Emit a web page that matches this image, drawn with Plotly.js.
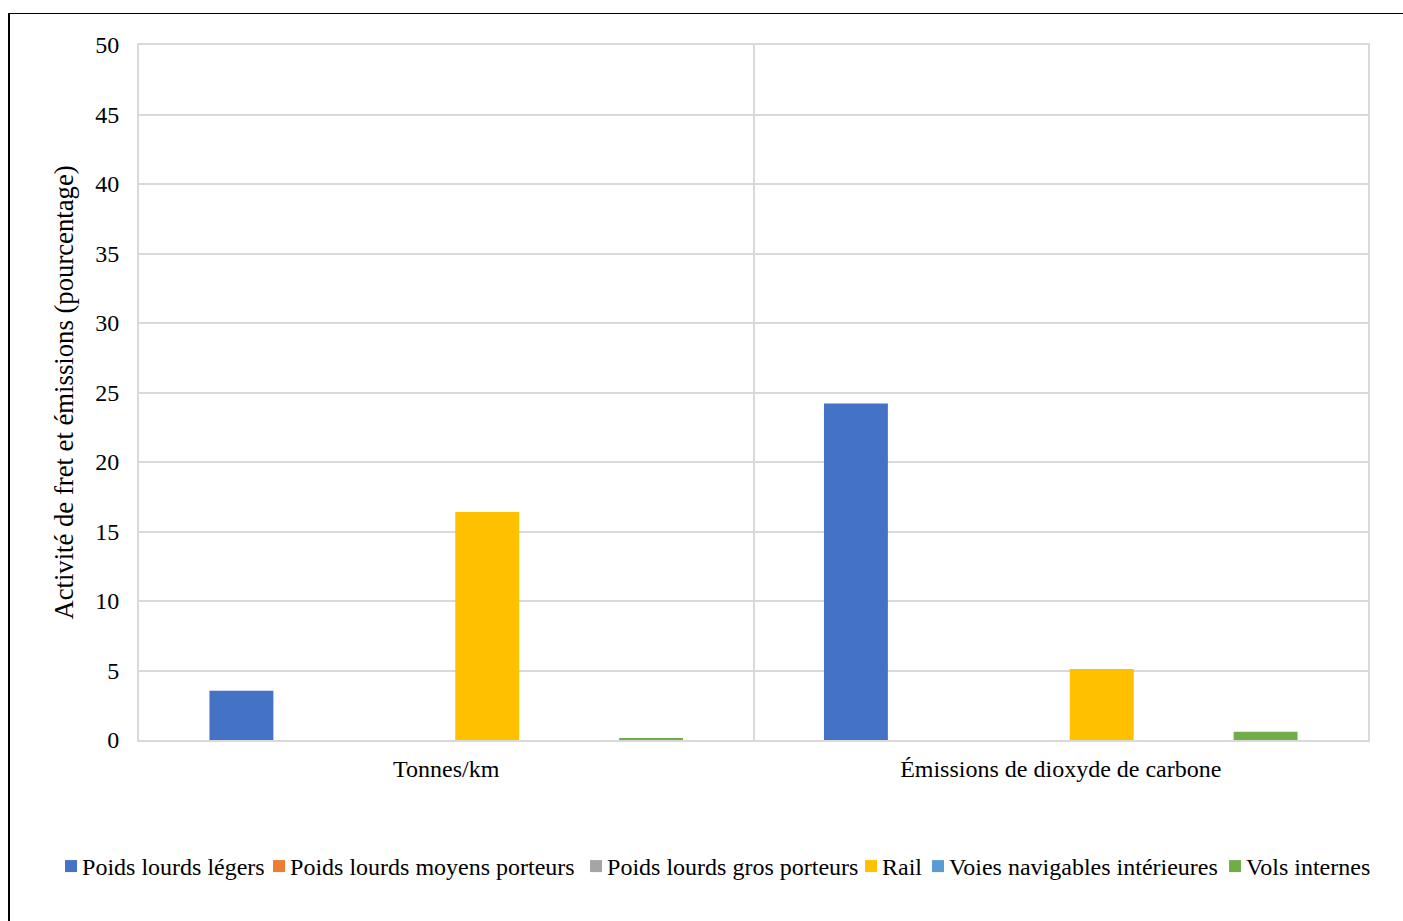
<!DOCTYPE html>
<html>
<head>
<meta charset="utf-8">
<script src="https://cdn.plot.ly/plotly-3.0.1.min.js"></script>
<style>
html,body{margin:0;padding:0;background:#fff;}
#chart{width:1403px;height:921px;}
#frame{position:absolute;left:8px;top:13px;width:1500px;height:1000px;border-left:2px solid #000;border-top:1.5px solid #000;pointer-events:none;}
</style>
</head>
<body>
<div id="chart"></div>
<div id="frame"></div>
<script>
const categories = ["Tonnes/km", "Émissions de dioxyde de carbone"];
const seriesNames = ["Poids lourds légers", "Poids lourds moyens porteurs", "Poids lourds gros porteurs", "Rail", "Voies navigables intérieures", "Vols internes"];
const seriesColors = ["#4472C4", "#ED7D31", "#A5A5A5", "#FFC000", "#5B9BD5", "#70AD47"];
const poidsLourdsLegers = [3.55, 24.2];
const poidsLourdsMoyens = [0, 0];
const poidsLourdsGros = [0, 0];
const rail = [16.4, 5.1];
const voiesNavigables = [0, 0];
const volsInternes = [0.15, 0.6];
const allValues = [poidsLourdsLegers, poidsLourdsMoyens, poidsLourdsGros, rail, voiesNavigables, volsInternes];
// legend entry text widths (pixels) so the legend sits on one row like the original
const legendWidths = [163, 272, 230, 22, 252, 126];

const fam = "Liberation Serif, Times New Roman, serif";
const font = {family: fam, size: 24, color: "#000"};

const traces = seriesNames.map((n, i) => ({
  type: "bar",
  name: n,
  x: categories,
  y: allValues[i],
  marker: {color: seriesColors[i]},
  legendwidth: legendWidths[i]
}));

const layout = {
  width: 1403,
  height: 921,
  margin: {l: 139, r: 35, t: 45, b: 181},
  paper_bgcolor: "#fff",
  plot_bgcolor: "#fff",
  font: font,
  barmode: "group",
  bargap: 0.2,
  bargroupgap: 0.22,
  showlegend: true,
  legend: {
    orientation: "h",
    x: -0.0789, xanchor: "left",
    y: -0.182, yanchor: "middle",
    font: font,
    itemwidth: 30,
    traceorder: "normal"
  },
  xaxis: {
    type: "category",
    tickson: "boundaries",
    showgrid: true,
    gridcolor: "#d9d9d9",
    gridwidth: 2,
    showline: true,
    mirror: true,
    linecolor: "#d9d9d9",
    linewidth: 2,
    ticks: "",
    tickfont: font,
    ticklabelstandoff: 6,
    fixedrange: true
  },
  yaxis: {
    range: [0, 50],
    dtick: 5,
    showgrid: true,
    gridcolor: "#d9d9d9",
    gridwidth: 2,
    zeroline: false,
    showline: true,
    mirror: true,
    linecolor: "#d9d9d9",
    linewidth: 2,
    ticks: "",
    tickfont: font,
    ticklabelstandoff: 13,
    title: {text: "Activité de fret et émissions (pourcentage)", font: {family: fam, size: 26.7, color: "#000"}, standoff: 14},
    fixedrange: true
  }
};

Plotly.newPlot("chart", traces, layout, {displayModeBar: false, staticPlot: true}).then(function () {
  // nudge legend swatches closer to their labels, as in the original
  document.querySelectorAll(".legend .legendpoints").forEach(function (el) {
    el.setAttribute("transform", ((el.getAttribute("transform") || "") + " translate(9,0)").trim());
  });
});
</script>
</body>
</html>
